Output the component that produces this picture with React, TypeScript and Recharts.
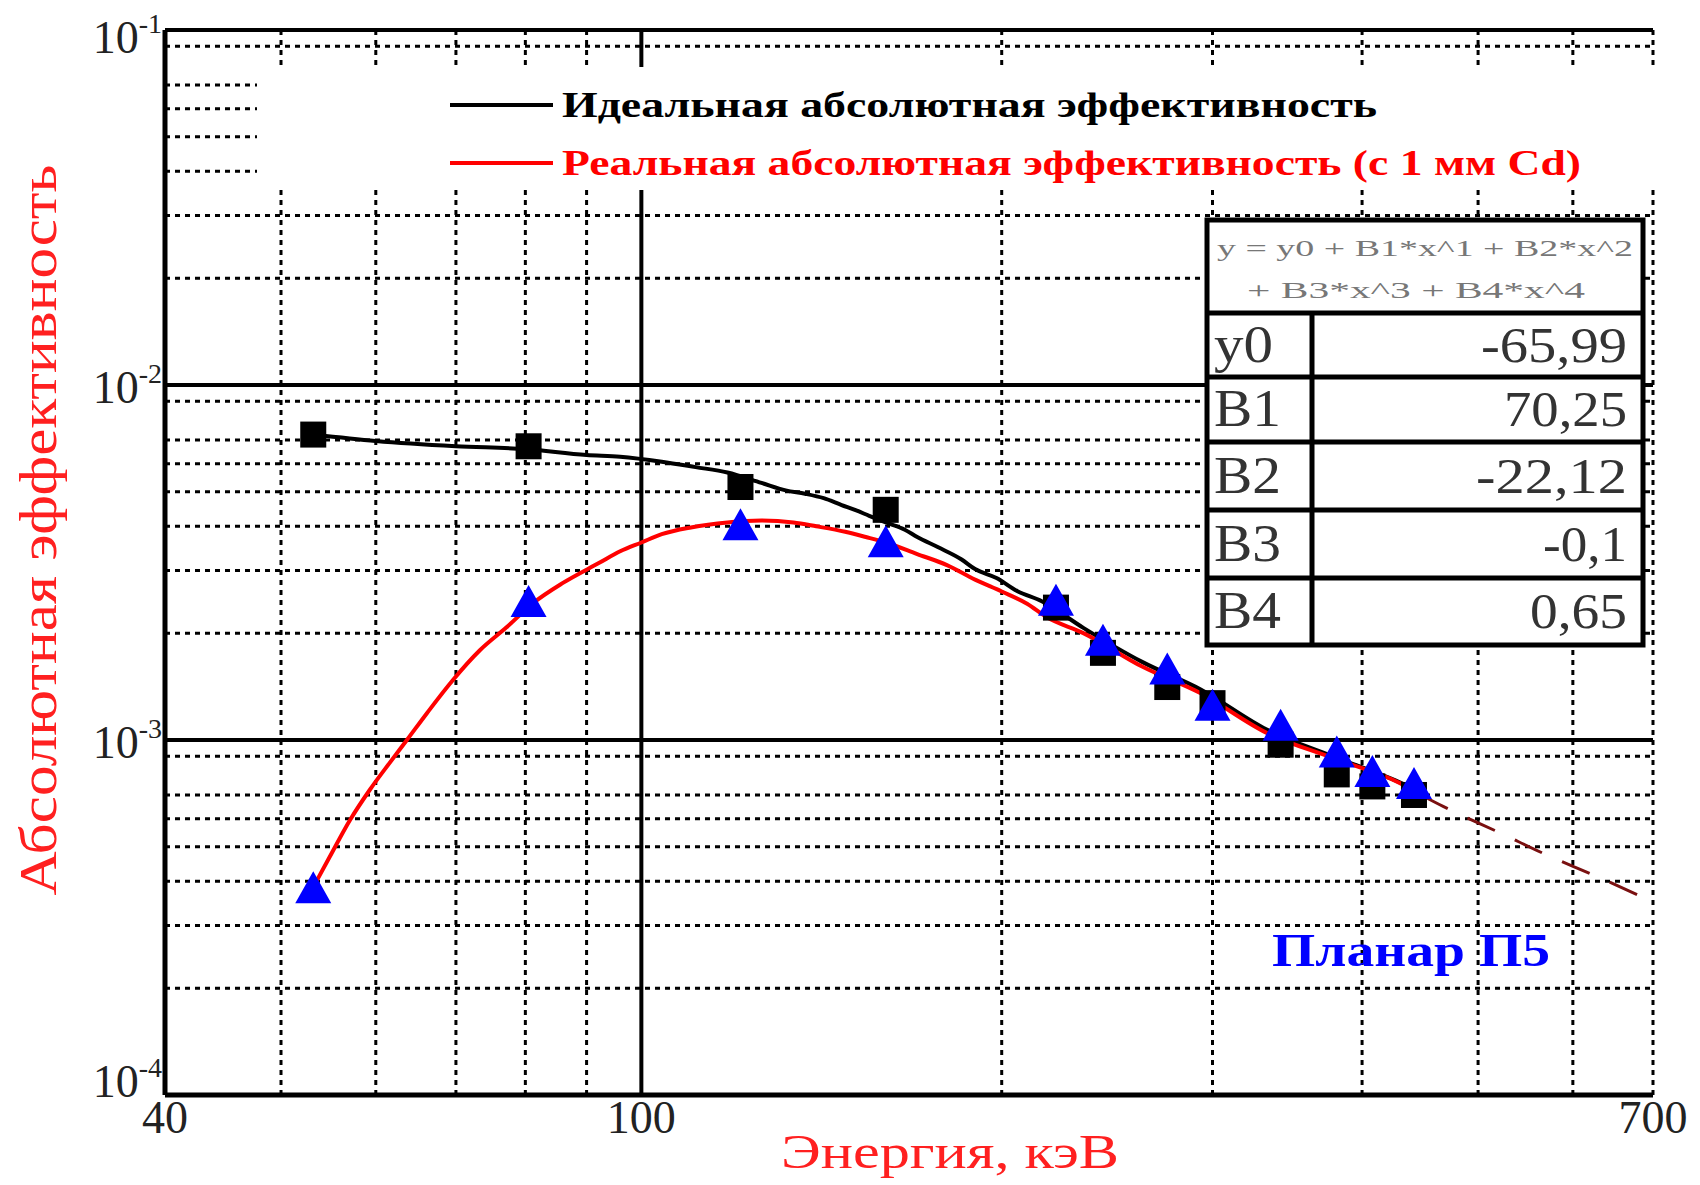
import React from 'react';
import { ComposedChart, Line, Scatter, XAxis, YAxis, CartesianGrid, Legend, Label } from 'recharts';

// measured points (keV), two detectors configs
const pointEnergy = [53.2, 80.5, 121, 160, 222, 243, 275, 300, 342, 381, 408, 442];
const idealEff = [0.00725, 0.00672, 0.00516, 0.00445, 0.00236, 0.00176, 0.00141, 0.00127, 0.00097, 0.0008, 0.00074, 0.0007];
const realEff = [0.00038, 0.00243, 0.004, 0.00358, 0.00245, 0.00189, 0.00157, 0.00124, 0.00109, 0.000916, 0.000807, 0.000747];

// fitted curves
const idealFitE = [53.2, 60, 70, 80, 90, 96, 104, 111, 118, 126, 132, 137, 142, 147, 151, 155, 160, 166, 170, 177, 185, 190, 198, 206, 216, 234, 262, 293, 333, 378, 430, 445];
const idealFitV = [0.00725, 0.00695, 0.00672, 0.0066, 0.00635, 0.00628, 0.00608, 0.00587, 0.00567, 0.0053, 0.00505, 0.00494, 0.0048, 0.00459, 0.00444, 0.00428, 0.0041, 0.00391, 0.00373, 0.00349, 0.00323, 0.00303, 0.00286, 0.00263, 0.00246, 0.00207, 0.00166, 0.00139, 0.00107, 0.0009, 0.00076, 0.00072];

const realFitE = [53.2, 54.9, 57.1, 59.3, 61.6, 63.7, 66.2, 69.6, 73.3, 77.2, 81.2, 86, 92.3, 96, 100, 104, 110, 118, 126, 134, 140, 148, 154, 160, 170, 180, 190, 200, 210, 218, 234, 262, 293, 333, 378, 430, 448];
const realFitV = [0.000385, 0.000468, 0.000595, 0.000723, 0.000861, 0.001, 0.00119, 0.001476, 0.00179, 0.00208, 0.00243, 0.00277, 0.00316, 0.0034, 0.0036, 0.0038, 0.00397, 0.0041, 0.00415, 0.0041, 0.004, 0.00386, 0.00373, 0.0036, 0.00334, 0.00311, 0.00283, 0.00262, 0.00242, 0.00222, 0.002, 0.00161, 0.001356, 0.001047, 0.00089, 0.000757, 0.0007];

const extraE = [448, 467.5, 521.8, 571, 623.8, 700];
const extraV = [0.0007, 0.00065, 0.000547, 0.000474, 0.000417, 0.00035];

const xTicks = [40, 100, 700];
const yTicks = [0.0001, 0.001, 0.01, 0.1];
const xMajor = [100];
const xMinor = [50, 60, 70, 80, 90, 200, 300, 400, 500, 600, 700];
const yMajor = [0.001, 0.01, 0.1];
const yMinor = [
  0.0002, 0.0003, 0.0004, 0.0005, 0.0006, 0.0007, 0.0008, 0.0009,
  0.002, 0.003, 0.004, 0.005, 0.006, 0.007, 0.008, 0.009,
  0.02, 0.03, 0.04, 0.05, 0.06, 0.07, 0.08, 0.09,
];

const legendLabels = ['Идеальная абсолютная эффективность', 'Реальная абсолютная эффективность (с 1 мм Cd)'];
const fitNames = ['y0', 'B1', 'B2', 'B3', 'B4'];
const fitValues = ['-65,99', '70,25', '-22,12', '-0,1', '0,65'];

const FONT = '"Liberation Serif", "Times New Roman", serif';

const pts = (es: number[], vs: number[]) => es.map((e, i) => ({ e, v: vs[i] }));

const idealPts = pts(pointEnergy, idealEff);
const realPts = pts(pointEnergy, realEff);
const idealFit = pts(idealFitE, idealFitV);
const realFit = pts(realFitE, realFitV);
const extra = pts(extraE, extraV);

const SquareShape = (p: any) => <rect x={p.cx - 13} y={p.cy - 13} width={26} height={26} fill="#000" />;
const TriShape = (p: any) => (
  <polygon points={`${p.cx},${p.cy - 18} ${p.cx + 18},${p.cy + 14} ${p.cx - 18},${p.cy + 14}`} fill="#0000ff" />
);

const YTick = ({ y, payload }: any) => {
  const exp = Math.round(Math.log10(payload.value));
  const shift = exp === -1 ? 8 : exp === -4 ? -13 : 3;
  return (
    <text x={162} y={y + shift + 15} textAnchor="end" fontFamily={FONT} fontSize={46} fill="#222">
      10<tspan dy={-20} fontSize={28}>{exp}</tspan>
    </text>
  );
};

const XTick = ({ x, payload }: any) => (
  <text x={x} y={1133} textAnchor="middle" fontFamily={FONT} fontSize={46} fill="#222">
    {payload.value}
  </text>
);

// legend box sits at left 257, top 67 (page coords)
const LegendBox = () => (
  <svg width={1399} height={123} style={{ display: 'block' }}>
    <line x1={193} x2={296} y1={38} y2={38} stroke="#000" strokeWidth={4} />
    <text x={305} y={50} fontFamily={FONT} fontSize={36} fontWeight="bold" fill="#000" textLength={815} lengthAdjust="spacingAndGlyphs">
      {legendLabels[0]}
    </text>
    <line x1={193} x2={296} y1={96} y2={96} stroke="#ff0000" strokeWidth={4} />
    <text x={305} y={108} fontFamily={FONT} fontSize={36} fontWeight="bold" fill="#ff0000" textLength={1019} lengthAdjust="spacingAndGlyphs">
      {legendLabels[1]}
    </text>
  </svg>
);

const rowLines = [313, 377, 442, 510, 578];
const rowCenters = [345, 409, 476, 544, 611];
const nameLen = [59, 67, 67, 67, 67];
const valLen = [146, 123, 151, 84, 97];

const FitTable = () => (
  <svg width={1700} height={1185} style={{ position: 'absolute', left: 0, top: 0, pointerEvents: 'none' }}>
    <rect x={1207} y={220} width={436} height={425} fill="#fff" stroke="#000" strokeWidth={5} />
    {rowLines.map((y) => (
      <line key={y} x1={1207} x2={1643} y1={y} y2={y} stroke="#000" strokeWidth={5} />
    ))}
    <line x1={1312} x2={1312} y1={313} y2={645} stroke="#000" strokeWidth={5} />
    <text x={1425} y={256} textAnchor="middle" fontFamily={FONT} fontSize={24} fill="#777" textLength={416} lengthAdjust="spacingAndGlyphs">
      y = y0 + B1*x^1 + B2*x^2
    </text>
    <text x={1416} y={298} textAnchor="middle" fontFamily={FONT} fontSize={24} fill="#777" textLength={338} lengthAdjust="spacingAndGlyphs">
      + B3*x^3 + B4*x^4
    </text>
    {fitNames.map((n, i) => (
      <text key={n} x={1214} y={rowCenters[i] + 17} fontFamily={FONT} fontSize={52} fill="#333" textLength={nameLen[i]} lengthAdjust="spacingAndGlyphs">
        {n}
      </text>
    ))}
    {fitValues.map((v, i) => (
      <text key={v} x={1627} y={rowCenters[i] + 17} textAnchor="end" fontFamily={FONT} fontSize={50} fill="#333" textLength={valLen[i]} lengthAdjust="spacingAndGlyphs">
        {v}
      </text>
    ))}
    <text x={1272} y={966} fontFamily={FONT} fontSize={46} fontWeight="bold" fill="#0000ff" textLength={278} lengthAdjust="spacingAndGlyphs">
      Планар П5
    </text>
  </svg>
);

export default function App() {
  return (
    <div style={{ position: 'absolute', left: 0, top: 0, width: 1700, height: 1185, background: '#fff' }}>
      <ComposedChart width={1700} height={1185} margin={{ top: 30, right: 47, bottom: 30, left: 15 }}>
        <CartesianGrid horizontal vertical horizontalValues={yMinor} verticalValues={xMinor} stroke="#000" strokeWidth={3} strokeDasharray="5 5" />
        <CartesianGrid horizontal vertical horizontalValues={yMajor} verticalValues={xMajor} stroke="#000" strokeWidth={4} />
        <XAxis
          dataKey="e"
          type="number"
          scale="log"
          domain={[40, 700]}
          allowDataOverflow
          ticks={xTicks}
          tick={<XTick />}
          tickLine={false}
          axisLine={{ stroke: '#000', strokeWidth: 5 }}
          height={60}
        >
          <Label
            content={() => (
              <text x={950} y={1168} textAnchor="middle" fontFamily={FONT} fontSize={48} fill="#ff2020" textLength={338} lengthAdjust="spacingAndGlyphs">
                Энергия, кэВ
              </text>
            )}
          />
        </XAxis>
        <YAxis
          dataKey="v"
          type="number"
          scale="log"
          domain={[0.0001, 0.1]}
          allowDataOverflow
          ticks={yTicks}
          tick={<YTick />}
          tickLine={false}
          axisLine={{ stroke: '#000', strokeWidth: 5 }}
          width={150}
        >
          <Label
            content={() => (
              <text
                x={38}
                y={530}
                transform="rotate(-90 38 530)"
                textAnchor="middle"
                dominantBaseline="central"
                fontFamily={FONT}
                fontSize={52}
                fill="#ff2020"
                textLength={731}
                lengthAdjust="spacingAndGlyphs"
              >
                Абсолютная эффективность
              </text>
            )}
          />
        </YAxis>
        <Legend
          layout="horizontal"
          verticalAlign="middle"
          align="center"
          content={() => <LegendBox />}
          wrapperStyle={{ position: 'absolute', left: 257, top: 67, width: 1399, height: 123, background: '#fff' }}
        />
        <Scatter data={idealPts} dataKey="v" shape={<SquareShape />} isAnimationActive={false} />
        <Line data={idealFit} dataKey="v" type="monotone" stroke="#000" strokeWidth={4} dot={false} isAnimationActive={false} />
        <Scatter data={realPts} dataKey="v" shape={<TriShape />} isAnimationActive={false} />
        <Line data={realFit} dataKey="v" type="monotone" stroke="#ff0000" strokeWidth={4} dot={false} isAnimationActive={false} />
        <Line data={extra} dataKey="v" type="monotone" stroke="#7a1010" strokeWidth={3} strokeDasharray="30 22" dot={false} isAnimationActive={false} />
      </ComposedChart>
      <FitTable />
    </div>
  );
}
